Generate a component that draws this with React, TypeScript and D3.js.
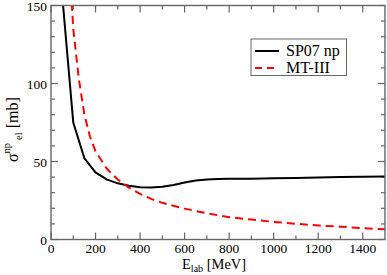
import React from 'react';
import * as d3 from 'd3';

// SP07 np elastic cross section
const spE = [50, 100, 150, 200, 250, 300, 350, 400, 450, 500, 550, 600, 650, 700, 750, 800, 900, 1000, 1100, 1200, 1300, 1400, 1500];
const spSigma = [157, 75, 52, 43, 38.5, 36, 34.5, 33.5, 33.3, 33.8, 35, 36.5, 37.8, 38.5, 38.8, 38.9, 39, 39.3, 39.5, 39.8, 40, 40.2, 40.4];

// MT-III
const mtE = [90, 100, 125, 150, 175, 200, 250, 300, 350, 400, 450, 500, 600, 700, 800, 900, 1000, 1100, 1200, 1300, 1400, 1500];
const mtSigma = [160, 135, 103, 80, 66, 56.5, 45.5, 38.5, 33.2, 29.2, 26, 23.5, 19.8, 16.8, 14.3, 12.8, 11.3, 10.1, 9.0, 8.2, 7.3, 6.5];

const xMajor = [0, 200, 400, 600, 800, 1000, 1200, 1400];
const yMajor = [0, 50, 100, 150];

const W = 387;
const H = 275;
const left = 51;
const right = 385;
const top = 5.5;
const bottom = 239.5;

const font = "'Liberation Serif', 'DejaVu Serif', serif";

export default function App() {
  const x = d3.scaleLinear().domain([0, 1500]).range([left, right]);
  const y = d3.scaleLinear().domain([0, 150]).range([bottom, top]);

  const line = d3.line<[number, number]>()
    .x(d => x(d[0]))
    .y(d => y(d[1]));

  const spData = spE.map((e, i) => [e, spSigma[i]] as [number, number]);
  const mtData = mtE.map((e, i) => [e, mtSigma[i]] as [number, number]);

  const xMinor = d3.range(100, 1500, 200);
  const yMinor = d3.range(0, 150, 10).filter(v => v % 50 !== 0);
  const axisColor = '#666';
  const txt = { fontFamily: font };

  return (
    <svg width={W} height={H} style={{ position: 'absolute', left: 0, top: 0, background: '#fff' }}>
      <defs>
        <clipPath id="plot">
          <rect x={left} y={top} width={right - left} height={bottom - top} />
        </clipPath>
      </defs>

      {/* ticks, inward on all four sides */}
      <g stroke={axisColor} strokeWidth={1.2}>
        {xMajor.map(v => (
          <g key={'xM' + v}>
            <line x1={x(v)} x2={x(v)} y1={bottom} y2={bottom - 7} />
            <line x1={x(v)} x2={x(v)} y1={top} y2={top + 7} />
          </g>
        ))}
        {xMinor.map(v => (
          <g key={'xm' + v}>
            <line x1={x(v)} x2={x(v)} y1={bottom} y2={bottom - 4} />
            <line x1={x(v)} x2={x(v)} y1={top} y2={top + 4} />
          </g>
        ))}
        {yMajor.map(v => (
          <g key={'yM' + v}>
            <line x1={left} x2={left + 7} y1={y(v)} y2={y(v)} />
            <line x1={right} x2={right - 7} y1={y(v)} y2={y(v)} />
          </g>
        ))}
        {yMinor.map(v => (
          <g key={'ym' + v}>
            <line x1={left} x2={left + 4} y1={y(v)} y2={y(v)} />
            <line x1={right} x2={right - 4} y1={y(v)} y2={y(v)} />
          </g>
        ))}
      </g>

      <g clipPath="url(#plot)" fill="none">
        <path d={line(spData) || ''} stroke="#000" strokeWidth={2} />
        <path d={line(mtData) || ''} stroke="#ff0000" strokeWidth={2} strokeDasharray="8,5" />
      </g>

      <rect x={left} y={top} width={right - left} height={bottom - top} fill="none" stroke={axisColor} strokeWidth={1.4} />

      {/* tick labels */}
      <g style={txt} fontSize={13.5} fill="#000">
        {xMajor.map(v => (
          <text key={'xl' + v} x={x(v)} y={bottom + 13} textAnchor="middle">{v}</text>
        ))}
        {yMajor.map(v => (
          <text key={'yl' + v} x={left - 4} y={y(v) + 5} textAnchor="end">{v}</text>
        ))}
      </g>

      {/* axis titles */}
      <text x={182} y={268.5} style={txt} fontSize={14.5} fill="#000">
        E<tspan fontSize={10} dy={3.5}>lab</tspan><tspan dy={-3.5}> [MeV]</tspan>
      </text>
      <text transform="translate(18,162) rotate(-90)" style={txt} fontSize={16} fill="#000">
        σ<tspan fontSize={10.5} dy={-8}>np</tspan><tspan fontSize={10.5} dx={3} dy={12}>el</tspan><tspan dy={-4}> [mb]</tspan>
      </text>

      {/* legend */}
      <rect x={251} y={39} width={95.5} height={36.5} fill="#fff" stroke={axisColor} strokeWidth={1} />
      <line x1={255} x2={279} y1={51} y2={51} stroke="#000" strokeWidth={2} />
      <line x1={255} x2={279} y1={68} y2={68} stroke="#ff0000" strokeWidth={2} strokeDasharray="7,5" />
      <text x={286} y={56} style={txt} fontSize={16} fill="#000">SP07 np</text>
      <text x={286} y={73} style={txt} fontSize={16} fill="#000">MT-III</text>
    </svg>
  );
}
